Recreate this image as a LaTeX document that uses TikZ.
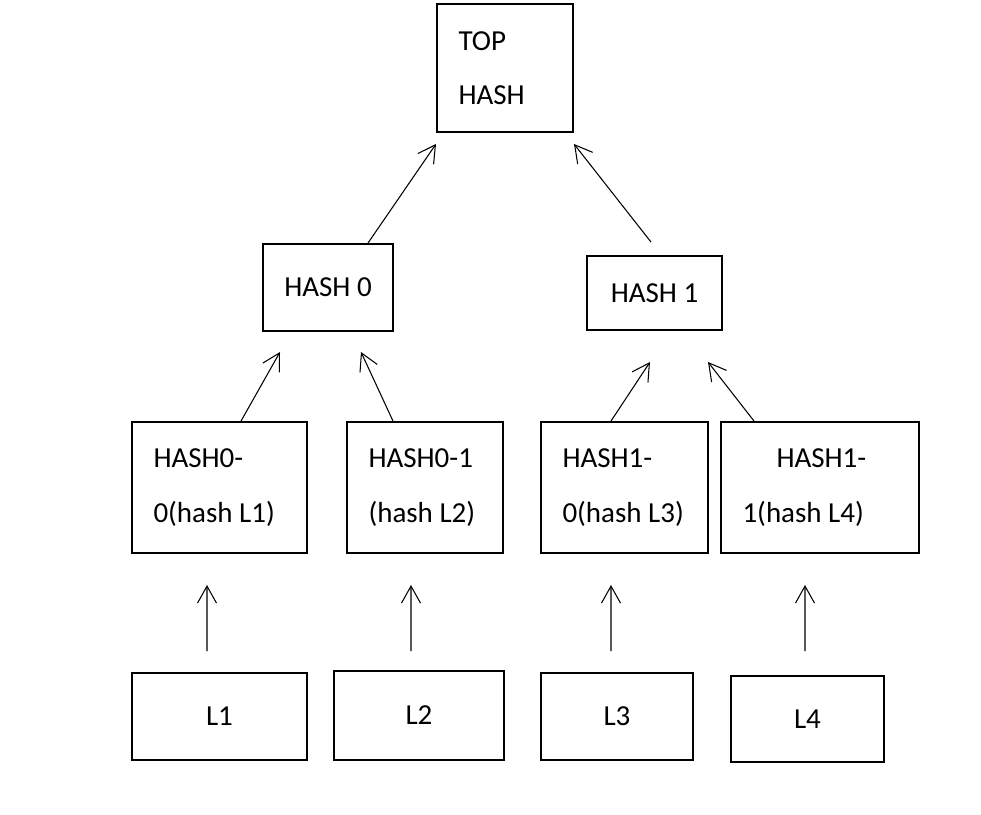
\documentclass[tikz,border=0pt]{standalone}
\usepackage{fontspec}
\setmainfont{Carlito}
\usetikzlibrary{arrows.meta}
\newcommand{\hashlines}[3]{\makebox[#1][l]{\vbox{\hbox{#2}\hbox{#3}}}}

\begin{document}
\begin{tikzpicture}[x=0.02cm,y=-0.02cm,
  box/.style={draw,line width=1.1pt,inner sep=0pt,font=\fontsize{16.5}{31}\selectfont},
  tbox/.style={box,inner xsep=0.43cm,minimum height=2.62cm},
  arr/.style={-{Straight Barb[length=0.34cm,width=0.38cm]},line width=0.6pt}]
  \useasboundingbox (0,0) rectangle (981,815);
  % top
  \node[tbox,minimum height=2.56cm] (top) at (505,68) {\hashlines{1.86cm}{TOP}{HASH}};
  % second row
  \node[box,minimum width=2.6cm,minimum height=1.74cm] (h0) at (328,287.5) {HASH 0};
  \node[box,minimum width=2.7cm,minimum height=1.48cm] (h1) at (654.5,293) {HASH 1};
  % third row
  \node[tbox] (h00) at (219.5,487.5) {\hashlines{2.64cm}{HASH0-}{0(hash L1)}};
  \node[tbox] (h01) at (425,487.5) {\hashlines{2.26cm}{HASH0-1}{(hash L2)}};
  \node[tbox] (h10) at (624.5,487.5) {\hashlines{2.48cm}{HASH1-}{0(hash L3)}};
  \node[tbox] (h11) at (820,487.5) {\hashlines{3.10cm}{\hspace*{0.68cm}HASH1-}{1(hash L4)}};
  % leaves
  \node[box,minimum width=3.5cm,minimum height=1.74cm] (l1) at (219.5,716.5) {L1};
  \node[box,minimum width=3.4cm,minimum height=1.78cm] (l2) at (419,715.5) {L2};
  \node[box,minimum width=3.04cm,minimum height=1.74cm] (l3) at (617,716.5) {L3};
  \node[box,minimum width=3.06cm,minimum height=1.72cm] (l4) at (807.5,719) {L4};
  % arrow tips
  \coordinate (tipT0) at (436,144);
  \coordinate (tipT1) at (574,144);
  \coordinate (tip00) at (280,352);
  \coordinate (tip01) at (361,352);
  \coordinate (tip10) at (650,362);
  \coordinate (tip11) at (708,362);
  \coordinate (tipL1) at (207,585);
  \coordinate (tipL2) at (411,585);
  \coordinate (tipL3) at (611,585);
  \coordinate (tipL4) at (805,585);
  % arrows
  \draw[arr] ([xshift=0.8cm]h0.north) -- (tipT0);
  \draw[arr] ([xshift=-0.07cm,yshift=0.26cm]h1.north) -- (tipT1);
  \draw[arr] ([xshift=0.43cm]h00.north) -- (tip00);
  \draw[arr] ([xshift=-0.64cm]h01.north) -- (tip01);
  \draw[arr] ([xshift=-0.27cm]h10.north) -- (tip10);
  \draw[arr] ([xshift=-1.32cm]h11.north) -- (tip11);
  \draw[arr] ([xshift=-0.25cm,yshift=0.42cm]l1.north) -- (tipL1);
  \draw[arr] ([xshift=-0.16cm,yshift=0.38cm]l2.north) -- (tipL2);
  \draw[arr] ([xshift=-0.12cm,yshift=0.42cm]l3.north) -- (tipL3);
  \draw[arr] ([xshift=-0.05cm,yshift=0.48cm]l4.north) -- (tipL4);
\end{tikzpicture}
\end{document}
